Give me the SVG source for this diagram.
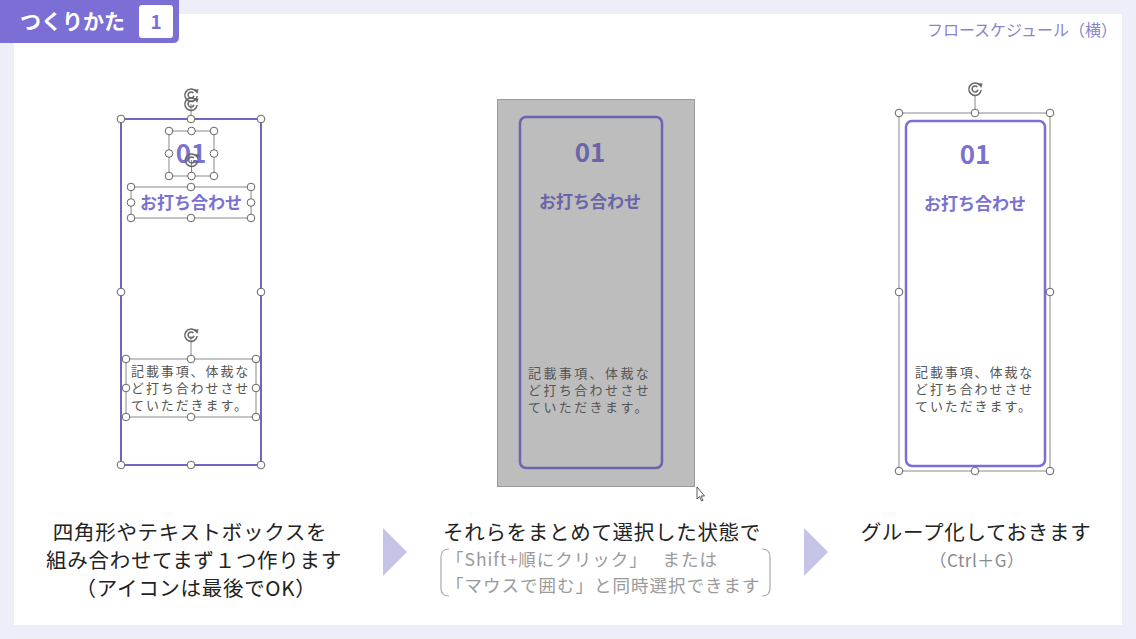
<svg xmlns="http://www.w3.org/2000/svg" xmlns:xlink="http://www.w3.org/1999/xlink" width="1136" height="639" viewBox="0 0 1136 639">
<style>
text{font-family:"Noto Sans CJK JP","Noto Sans",sans-serif}
.h{fill:#fff;stroke:#666;stroke-width:1}
.sel{fill:none;stroke:#8a8a8a;stroke-width:1}
.num{font-size:26px;font-weight:bold;text-anchor:middle}
.ttl{font-size:17px;font-weight:bold;text-anchor:middle}
.body{font-size:13px;letter-spacing:1.9px;fill:#555}
.cap{font-size:20.5px;fill:#222;text-anchor:middle;letter-spacing:0.7px}
.sub{font-size:17.5px;fill:#9a9a9a;letter-spacing:1px}
.tri{fill:#c5c3e6}
</style>
<defs>
<circle id="hd" r="3.8" class="h"/>
<g id="rot" fill="none" stroke="#666" stroke-width="1.5">
<path d="M4.6,-4 A6.2,6.2 0 1 0 6.2,1"/>
<path d="M2.4,-2 A3,3 0 1 0 3,0.8"/>
<path d="M2.6,-5.8 L7.6,-5.4 L6.2,-1 Z" fill="#666" stroke="none"/>
</g>
</defs>
<rect width="1136" height="639" fill="#eeeef9"/>
<rect x="14" y="14" width="1108" height="611" fill="#fff"/>
<g id="header">
<path d="M0,0 H179 V37 Q179,43 173,43 H0 Z" fill="#7b6fd6"/>
<text x="20" y="29" font-size="21" font-weight="bold" fill="#fff">つくりかた</text>
<rect x="139" y="5" width="34" height="33" rx="3" fill="#fff"/>
<text x="156" y="29" font-size="19" font-weight="bold" fill="#7b6fd6" text-anchor="middle">1</text>
</g>
<text id="subtitle" x="1117" y="36" font-size="16" fill="#8a84c8" text-anchor="end">フロースケジュール（横）</text>

<g id="step1">
<rect x="121" y="119" width="140" height="346" fill="none" stroke="#6f66c4" stroke-width="2"/>
<text x="191" y="163" class="num" fill="#7b72d0">01</text>
<text x="191" y="209" class="ttl" fill="#7b72d0">お打ち合わせ</text>
<text class="body"><tspan x="131" y="376">記載事項、体裁な</tspan><tspan x="131" y="393">ど打ち合わせさせ</tspan><tspan x="131" y="410">ていただきます。</tspan></text>
<rect x="169" y="131" width="45" height="45" class="sel"/>
<rect x="131" y="187" width="120" height="31" class="sel"/>
<rect x="126" y="359" width="130" height="58" class="sel"/>
<line x1="191" y1="104" x2="191" y2="119" stroke="#888"/>
<line x1="191.5" y1="160" x2="191.5" y2="176" stroke="#888"/>
<line x1="191" y1="336" x2="191" y2="359" stroke="#888"/>
<use xlink:href="#rot" x="191" y="95"/>
<use xlink:href="#rot" x="191" y="104"/>
<use xlink:href="#rot" x="191.5" y="160"/>
<use xlink:href="#rot" x="191" y="335"/>
<use xlink:href="#hd" x="121" y="119"/><use xlink:href="#hd" x="191" y="119"/><use xlink:href="#hd" x="261" y="119"/>
<use xlink:href="#hd" x="121" y="292"/><use xlink:href="#hd" x="261" y="292"/>
<use xlink:href="#hd" x="121" y="465"/><use xlink:href="#hd" x="191" y="465"/><use xlink:href="#hd" x="261" y="465"/>
<use xlink:href="#hd" x="169" y="131"/><use xlink:href="#hd" x="191.5" y="131"/><use xlink:href="#hd" x="214" y="131"/>
<use xlink:href="#hd" x="169" y="153.5"/><use xlink:href="#hd" x="214" y="153.5"/>
<use xlink:href="#hd" x="169" y="176"/><use xlink:href="#hd" x="191.5" y="176"/><use xlink:href="#hd" x="214" y="176"/>
<use xlink:href="#hd" x="131" y="187"/><use xlink:href="#hd" x="191" y="187"/><use xlink:href="#hd" x="251" y="187"/>
<use xlink:href="#hd" x="131" y="202.5"/><use xlink:href="#hd" x="251" y="202.5"/>
<use xlink:href="#hd" x="131" y="218"/><use xlink:href="#hd" x="191" y="218"/><use xlink:href="#hd" x="251" y="218"/>
<use xlink:href="#hd" x="126" y="359"/><use xlink:href="#hd" x="191" y="359"/><use xlink:href="#hd" x="256" y="359"/>
<use xlink:href="#hd" x="126" y="388"/><use xlink:href="#hd" x="256" y="388"/>
<use xlink:href="#hd" x="126" y="417"/><use xlink:href="#hd" x="191" y="417"/><use xlink:href="#hd" x="256" y="417"/>
</g>

<g id="step2">
<rect x="497.5" y="99.5" width="197" height="387" fill="#bdbdbd" stroke="#9a9a9a"/>
<rect x="520" y="117" width="142" height="351" rx="6" fill="none" stroke="#6b64b0" stroke-width="2.5"/>
<text x="590" y="162" class="num" fill="#6a64a8">01</text>
<text x="590" y="208" class="ttl" fill="#6a64a8">お打ち合わせ</text>
<text class="body" style="letter-spacing:2.4px" fill="#5a5a5a"><tspan x="528" y="378">記載事項、体裁な</tspan><tspan x="528" y="395">ど打ち合わせさせ</tspan><tspan x="528" y="412">ていただきます。</tspan></text>
<path d="M697,487 L697,499 L699.5,496.5 L701.5,501 L703,500.3 L701,496 L704.5,496 Z" fill="#fff" stroke="#333" stroke-width="0.8"/>
</g>

<g id="step3">
<rect x="906" y="121" width="139" height="345" rx="6" fill="none" stroke="#7b6fd6" stroke-width="2.5"/>
<rect x="899" y="113" width="151" height="358" class="sel"/>
<text x="975" y="164" class="num" fill="#7b72d0">01</text>
<text x="975" y="210" class="ttl" fill="#7b72d0">お打ち合わせ</text>
<text class="body"><tspan x="915" y="377">記載事項、体裁な</tspan><tspan x="915" y="394">ど打ち合わせさせ</tspan><tspan x="915" y="411">ていただきます。</tspan></text>
<line x1="975" y1="95" x2="975" y2="113" stroke="#888"/>
<use xlink:href="#rot" x="975" y="89"/>
<use xlink:href="#hd" x="899" y="113"/><use xlink:href="#hd" x="975" y="113"/><use xlink:href="#hd" x="1050" y="113"/>
<use xlink:href="#hd" x="899" y="292"/><use xlink:href="#hd" x="1050" y="292"/>
<use xlink:href="#hd" x="899" y="471"/><use xlink:href="#hd" x="975" y="471"/><use xlink:href="#hd" x="1050" y="471"/>
</g>

<g id="connectors">
<path class="tri" d="M383,528 L407,552 L383,576 Z"/>
<path class="tri" d="M804,528 L828,552 L804,576 Z"/>
</g>

<g id="captions">
<text class="cap" x="190" y="540">四角形やテキストボックスを</text>
<text class="cap" x="194" y="568">組み合わせてまず１つ作ります</text>
<text class="cap" x="196" y="596">（アイコンは最後でOK）</text>
<text class="cap" x="602" y="540">それらをまとめて選択した状態で</text>
<text class="sub" x="446" y="566">「Shift+順にクリック」　 または</text>
<text class="sub" x="446" y="592">「マウスで囲む」と同時選択できます</text>
<path d="M449,549 Q441,549 441,557 L441,588 Q441,596 449,596" fill="none" stroke="#aaa" stroke-width="1.2"/>
<path d="M762,549 Q770,549 770,557 L770,588 Q770,596 762,596" fill="none" stroke="#aaa" stroke-width="1.2"/>
<text class="cap" x="976" y="540">グループ化しておきます</text>
<text x="977" y="567" font-size="17" fill="#8a8a8a" text-anchor="middle" letter-spacing="0.5">（Ctrl＋G）</text>
</g>
</svg>
